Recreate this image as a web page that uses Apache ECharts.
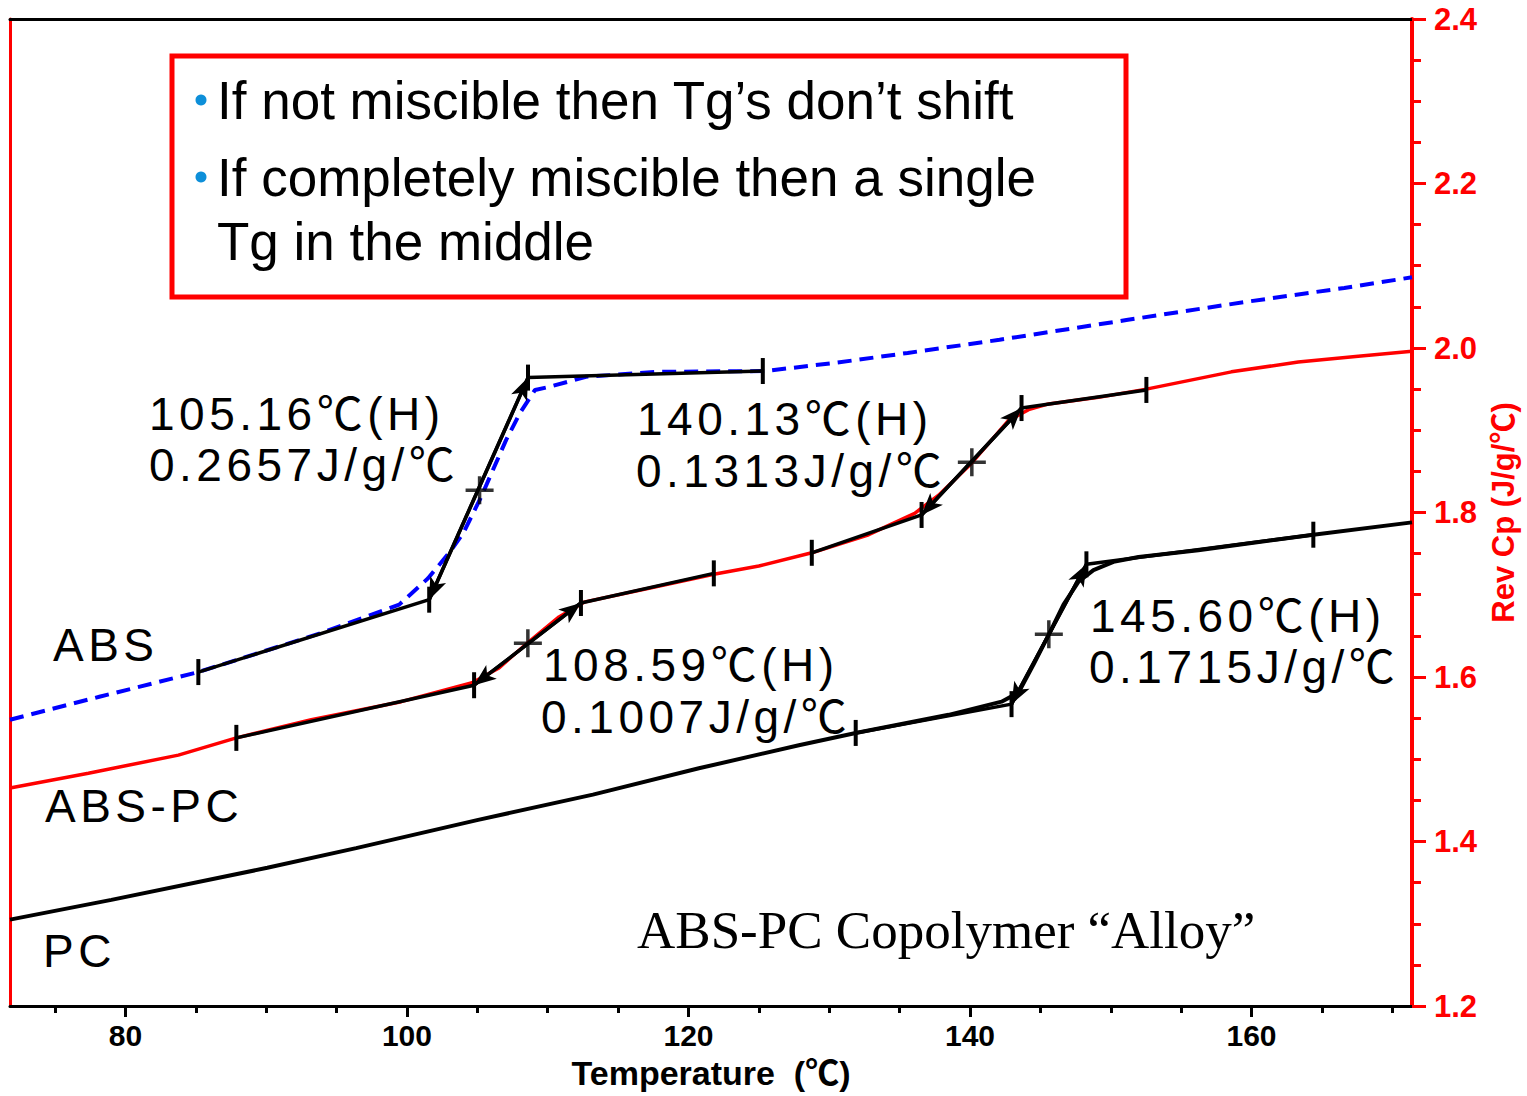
<!DOCTYPE html>
<html lang="en">
<head>
<meta charset="UTF-8">
<title>ABS-PC Rev Cp</title>
<script src="https://cdn.jsdelivr.net/npm/echarts@6/dist/echarts.min.js"></script>
<style>
    html, body { margin: 0; padding: 0; background: #fff; }
    #main { width: 1527px; height: 1096px; }
    /* the Tg annotations are drawn with wide tracking (svg renderer) */
    #main text[style*="46px"] { letter-spacing: 4.5px; }
</style>
</head>
<body>
<div id="main"></div>
<script>
    // ---- data ----
    var tempABS = [71.8, 78.15, 85.18, 93.84, 99.45, 101.5, 103.0, 104.0, 105.27, 107.04, 108.03, 109.1, 110.16, 112.72, 117.83, 125.42, 130.46, 135.57, 142.1, 151.11, 159.56, 166.59, 171.4];
    var cpABS = [1.548, 1.576, 1.606, 1.653, 1.688, 1.720, 1.751, 1.775, 1.819, 1.888, 1.921, 1.949, 1.953, 1.965, 1.971, 1.972, 1.982, 1.994, 2.010, 2.034, 2.056, 2.073, 2.086];

    var tempABSPC = [71.8, 77.37, 83.76, 87.88, 93.2, 99.59, 104.63, 106.54, 108.53, 110.8, 112.58, 117.19, 121.8, 125.0, 128.76, 132.8, 136.07, 137.77, 140.11, 142.74, 144.16, 145.58, 149.13, 152.53, 158.57, 163.32, 167.58, 171.4];
    var cpABSPC = [1.465, 1.483, 1.505, 1.526, 1.548, 1.570, 1.593, 1.611, 1.641, 1.673, 1.691, 1.708, 1.725, 1.735, 1.751, 1.773, 1.799, 1.821, 1.860, 1.912, 1.925, 1.932, 1.940, 1.950, 1.971, 1.983, 1.990, 1.996];

    var tempPC = [71.8, 79.0, 90.08, 96.39, 104.98, 113.21, 120.74, 127.84, 131.88, 138.48, 142.24, 143.45, 144.51, 145.58, 146.64, 147.71, 148.77, 150.19, 151.97, 156.22, 164.39, 171.4];
    var cpPC = [1.305, 1.329, 1.368, 1.392, 1.426, 1.457, 1.489, 1.517, 1.532, 1.554, 1.570, 1.581, 1.615, 1.651, 1.688, 1.716, 1.730, 1.740, 1.746, 1.754, 1.773, 1.788];

    // glass transition construction lines: onset, corner, corner, end
    var tanABS = [[85.18, 1.606], [101.58, 1.694], [108.6, 1.964], [125.28, 1.972]];
    var tanABSPC1 = [[87.88, 1.526], [104.77, 1.590], [112.36, 1.690], [121.8, 1.726]];
    var tanABSPC2 = [[128.76, 1.751], [136.56, 1.797], [143.66, 1.927], [152.53, 1.949]];
    var tanPC = [[131.88, 1.532], [142.95, 1.567], [148.27, 1.737], [164.39, 1.773]];
    var tgMid = [[105.16, 1.827], [108.59, 1.641], [140.13, 1.861], [145.60, 1.652]];

    var tgLabels = ['105.16℃(H)', '0.2657J/g/℃', '140.13℃(H)', '0.1313J/g/℃', '108.59℃(H)', '0.1007J/g/℃', '145.60℃(H)', '0.1715J/g/℃'];
    var curveNames = ['ABS', 'ABS-PC', 'PC'];
    var noteLines = ['If not miscible then Tg’s don’t shift', 'If completely miscible then a single', 'Tg in the middle'];

    var xMajor = [80, 100, 120, 140, 160];
    var xMinor = [75, 85, 90, 95, 105, 110, 115, 125, 130, 135, 145, 150, 155, 165, 170];

    function pairs(xs, ys) {
        return xs.map(function(x, i) { return [x, ys[i]]; });
    }

    var SANS = '"Liberation Sans", "Noto Sans CJK SC", sans-serif';
    var RED = '#ff0000';

    function tangent(name, pts) {
        return {
            name: name,
            type: 'line',
            data: pts,
            symbol: 'rect',
            symbolSize: [4, 26],
            itemStyle: { color: '#000' },
            lineStyle: { color: '#000', width: 3.5 },
            z: 5,
            markLine: {
                silent: true,
                symbol: ['arrow', 'arrow'],
                symbolSize: [13, 22],
                label: { show: false },
                lineStyle: { color: '#000', width: 3.5, type: 'solid' },
                data: [[{ coord: pts[1] }, { coord: pts[2] }]]
            }
        };
    }

    function txt(x, y, s, font, fill) {
        return {
            type: 'text', x: x, y: y, z: 10,
            style: { text: s, font: font, fill: fill || '#000', textAlign: 'left', textVerticalAlign: 'middle' }
        };
    }

    var chart = echarts.init(document.getElementById('main'), null, { renderer: 'svg' });

    var ann = '46px ' + SANS;
    var graphics = [
        { type: 'rect', z: 8, shape: { x: 172, y: 56, width: 954, height: 241 },
          style: { fill: '#fff', stroke: RED, lineWidth: 5 } },
        { type: 'circle', z: 10, shape: { cx: 201, cy: 100, r: 5.5 }, style: { fill: '#0d8fd9' } },
        { type: 'circle', z: 10, shape: { cx: 201, cy: 177, r: 5.5 }, style: { fill: '#0d8fd9' } },
        txt(217, 100, noteLines[0], '53px ' + SANS),
        txt(217, 177, noteLines[1], '53px ' + SANS),
        txt(217, 241, noteLines[2], '53px ' + SANS),
        txt(149, 414, tgLabels[0], ann),
        txt(149, 465, tgLabels[1], ann),
        txt(637, 419, tgLabels[2], ann),
        txt(636, 471, tgLabels[3], ann),
        txt(543, 665, tgLabels[4], ann),
        txt(541, 717, tgLabels[5], ann),
        txt(1090, 616, tgLabels[6], ann),
        txt(1089, 667, tgLabels[7], ann),
        txt(53, 645, curveNames[0], ann),
        txt(45, 806, curveNames[1], ann),
        txt(43, 951, curveNames[2], ann),
        txt(637, 930, 'ABS-PC Copolymer “Alloy”', '53px "Liberation Serif", serif')
    ];

    var option = {
        animation: false,
        backgroundColor: '#fff',
        grid: { left: 10, right: 114, top: 19, bottom: 90 },
        xAxis: [{
            type: 'value', min: 71.8, max: 171.4, position: 'bottom',
            name: 'Temperature  (℃)', nameLocation: 'middle', nameGap: 50,
            nameTextStyle: { color: '#000', fontFamily: SANS, fontWeight: 'bold', fontSize: 34 },
            axisLine: { onZero: false, lineStyle: { color: '#000', width: 3 } },
            axisTick: { customValues: xMajor, length: 11, lineStyle: { color: '#000', width: 3 } },
            axisLabel: { customValues: xMajor, margin: 14, color: '#000', fontFamily: SANS, fontWeight: 'bold', fontSize: 30 },
            splitLine: { show: false }
        }, {
            type: 'value', min: 71.8, max: 171.4, position: 'bottom',
            axisLine: { show: false, onZero: false },
            axisTick: { customValues: xMinor, length: 7, lineStyle: { color: '#000', width: 3 } },
            axisLabel: { show: false },
            splitLine: { show: false }
        }, {
            type: 'value', min: 71.8, max: 171.4, position: 'top',
            axisLine: { onZero: false, lineStyle: { color: '#000', width: 3 } },
            axisTick: { show: false },
            axisLabel: { show: false },
            splitLine: { show: false }
        }],
        yAxis: [{
            type: 'value', min: 1.2, max: 2.4, interval: 0.2, position: 'right',
            name: 'Rev Cp (J/g/℃)', nameLocation: 'middle', nameRotate: 90, nameGap: 73,
            nameTextStyle: { color: RED, fontFamily: SANS, fontWeight: 'bold', fontSize: 31 },
            axisLine: { onZero: false, lineStyle: { color: RED, width: 4 } },
            axisTick: { length: 14, lineStyle: { color: RED, width: 3 } },
            minorTick: { show: true, splitNumber: 4, length: 9, lineStyle: { color: RED, width: 3 } },
            axisLabel: {
                margin: 22, color: RED, fontFamily: SANS, fontWeight: 'bold', fontSize: 31,
                formatter: function(v) { return v.toFixed(1); }
            },
            splitLine: { show: false },
            minorSplitLine: { show: false }
        }, {
            type: 'value', min: 1.2, max: 2.4, position: 'left',
            axisLine: { onZero: false, lineStyle: { color: RED, width: 3 } },
            axisTick: { show: false },
            axisLabel: { show: false },
            splitLine: { show: false }
        }],
        series: [{
            name: 'ABS', type: 'line', data: pairs(tempABS, cpABS), symbol: 'none', z: 3,
            lineStyle: { color: '#0000ff', width: 4, type: [14, 8] }
        }, {
            name: 'ABS-PC', type: 'line', data: pairs(tempABSPC, cpABSPC), symbol: 'none', z: 3,
            lineStyle: { color: RED, width: 3.5 }
        }, {
            name: 'PC', type: 'line', data: pairs(tempPC, cpPC), symbol: 'none', z: 3,
            lineStyle: { color: '#000', width: 4 }
        },
            tangent('ABS Tg', tanABS),
            tangent('ABS-PC Tg1', tanABSPC1),
            tangent('ABS-PC Tg2', tanABSPC2),
            tangent('PC Tg', tanPC),
        {
            name: 'Tg', type: 'scatter', data: tgMid, z: 6,
            symbol: 'path://M10.5,0h3v24h-3z M0,10.5h24v3h-24z', symbolSize: 28,
            itemStyle: { color: '#000' }
        }],
        graphic: graphics
    };

    chart.setOption(option);
</script>
</body>
</html>
